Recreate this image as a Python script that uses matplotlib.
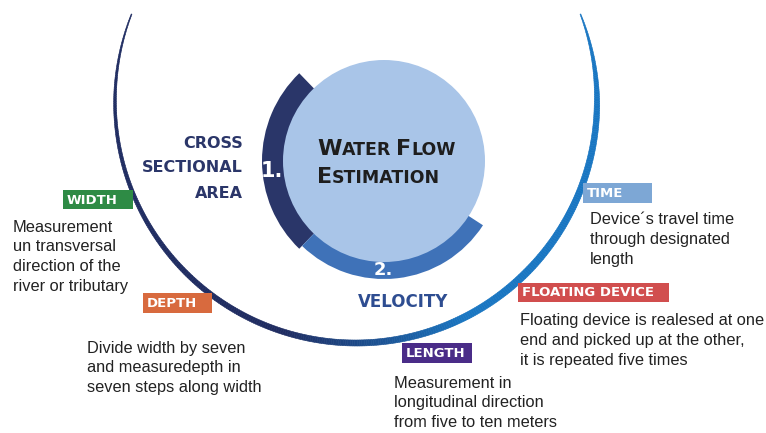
import numpy as np
import matplotlib.pyplot as plt
from matplotlib.patches import Wedge, Circle, Rectangle
from matplotlib.collections import PolyCollection
from matplotlib.colors import to_rgb

plt.rcParams['font.family'] = ['Liberation Sans', 'DejaVu Sans']
BOLD = ['DejaVu Sans']

# ---- content ----
title_lines = ["Water Flow", "Estimation"]
step_numbers = ["1.", "2."]
area_label = ["CROSS", "SECTIONAL", "AREA"]
velocity_label = "VELOCITY"
tags = ["WIDTH", "DEPTH", "LENGTH", "TIME", "FLOATING DEVICE"]
tag_colors = ["#2E8B45", "#D86A3E", "#4A2C88", "#7DA7D5", "#D14E4E"]
notes = [
    ["Measurement", "un transversal", "direction of the", "river or tributary"],
    ["Divide width by seven", "and measuredepth in", "seven steps along width"],
    ["Measurement in", "longitudinal direction", "from five to ten meters"],
    ["Device\u00b4s travel time", "through designated", "length"],
    ["Floating device is realesed at one", "end and picked up at the other,",
     "it is repeated five times"],
]

# ---- layout (pixels) ----
tag_boxes = [(63, 190, 70, 19), (143, 293, 69, 20), (402, 343, 70, 20),
             (583, 183, 69, 20), (518, 283, 151, 19)]
note_pos = [(13, 227), (87, 348), (394, 383), (590, 220), (520, 321)]

W, H = 766, 433
fig = plt.figure(figsize=(W / 100, H / 100), dpi=100)
ax = fig.add_axes([0, 0, 1, 1])
ax.set_xlim(0, W)
ax.set_ylim(H, 0)
ax.axis('off')

# outer swoosh ring with gradient and tapering width
cx, cy, R = 356, 102, 241
phi = np.radians(np.linspace(158.6, 381.4, 400))
t = np.linspace(0, 1, len(phi))
width = np.interp(t, [0, 0.08, 0.3, 0.5, 0.7, 0.9, 1], [0.8, 2.5, 5, 6, 7.5, 5.5, 0.8])
mix = np.clip((t - 0.42) / 0.2, 0, 1)
c0, c1 = np.array(to_rgb("#1F2C61")), np.array(to_rgb("#1976C2"))
polys, cols = [], []
for i in range(len(phi) - 1):
    a0, a1 = phi[i], phi[i + 1]
    w = (width[i] + width[i + 1]) / 2
    r_in, r_out = R - w / 2, R + w / 2
    polys.append([(cx + r_in * np.cos(a0), cy - r_in * np.sin(a0)),
                  (cx + r_out * np.cos(a0), cy - r_out * np.sin(a0)),
                  (cx + r_out * np.cos(a1), cy - r_out * np.sin(a1)),
                  (cx + r_in * np.cos(a1), cy - r_in * np.sin(a1))])
    cols.append(c0 * (1 - mix[i]) + c1 * mix[i])
ax.add_collection(PolyCollection(polys, facecolors=cols, edgecolors=cols, linewidths=0.4))

# central circle with two step arcs
ccx, ccy = 384, 161
ax.add_patch(Wedge((ccx, ccy), 122, 134, 226, width=30, color="#2A3669", lw=0))
ax.add_patch(Wedge((ccx, ccy), 118, 33, 134, width=30, color="#3F72B8", lw=0))
ax.add_patch(Circle((ccx, ccy), 101, color="#A9C5E8", lw=0))

ax.text(272, 171, step_numbers[0], color="white", fontsize=15, fontweight="bold",
        family=BOLD, ha="center", va="center")
ax.text(383, 270, step_numbers[1], color="white", fontsize=13, fontweight="bold",
        family=BOLD, ha="center", va="center")

# small caps title
renderer = fig.canvas.get_renderer()


def small_caps(x, y, text, big, small):
    for word in text.split():
        for piece, size in ((word[0].upper(), big), (word[1:].upper(), small)):
            tx = ax.text(x, y, piece, fontsize=size, fontweight="bold", family=BOLD,
                         color="#1E1E1E", ha="left", va="baseline")
            x += tx.get_window_extent(renderer).width
        x += 5


small_caps(317, 155, title_lines[0], 16, 12.5)
small_caps(317, 183, title_lines[1], 16, 12.5)

for i, line in enumerate(area_label):
    ax.text(243, 143 + 25 * i, line, color="#2B3669", fontsize=11.5,
            fontweight="bold", family=BOLD, ha="right", va="center")
ax.text(403, 302, velocity_label, color="#2E4D91", fontsize=12,
        fontweight="bold", family=BOLD, ha="center", va="center")

# tags and descriptions
for tag, col, (bx, by, bw, bh), lines, (nx, ny) in zip(tags, tag_colors, tag_boxes,
                                                      notes, note_pos):
    ax.add_patch(Rectangle((bx, by), bw, bh, color=col, lw=0))
    ax.text(bx + 4, by + bh / 2 + 0.5, tag, color="white", fontsize=9.5,
            fontweight="bold", family=BOLD, ha="left", va="center")
    for j, line in enumerate(lines):
        ax.text(nx, ny + 19.7 * j, line, color="#222222", fontsize=11.8,
                ha="left", va="center")

fig.savefig("out.png", dpi=100)
